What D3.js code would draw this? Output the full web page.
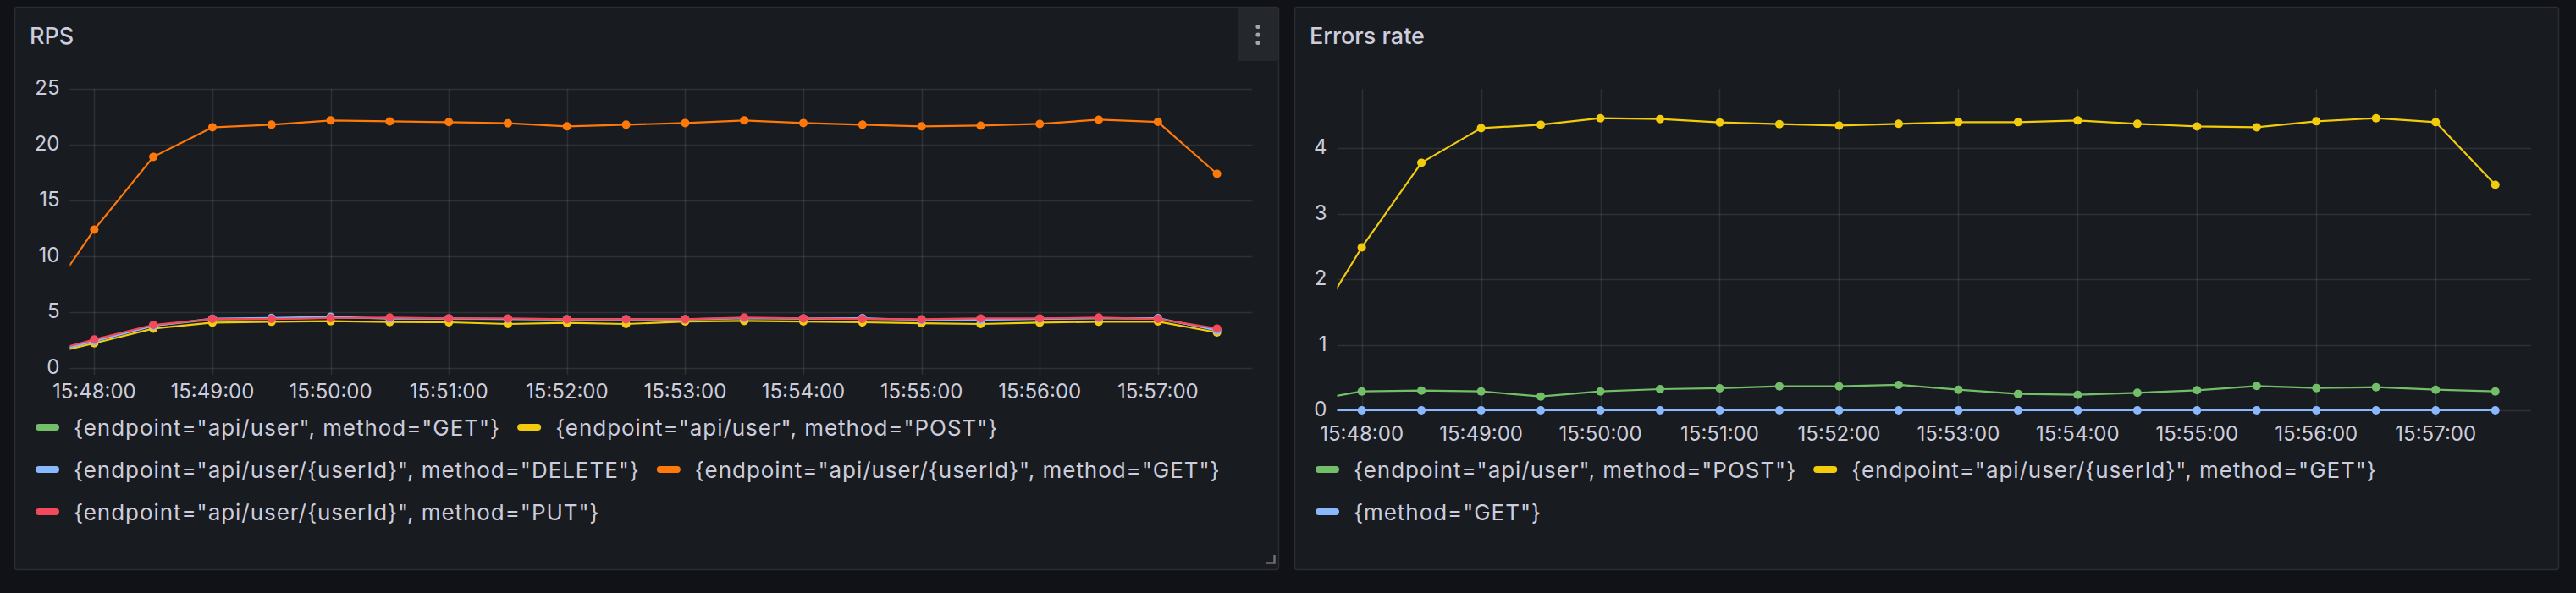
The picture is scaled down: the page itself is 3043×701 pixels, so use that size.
<!DOCTYPE html>
<html>
<head>
<meta charset="utf-8">
<script src="https://cdn.jsdelivr.net/npm/d3@7"></script>
<style>
  html, body { margin: 0; padding: 0; background: #111217; }
  svg { display: block; }
  text { font-family: Inter, "Noto Sans", sans-serif; }
</style>
</head>
<body>
<svg id="chart" width="3043" height="701"></svg>
<script>
// ---------- DATA ----------
// Sample times (every 30 s, hh:mm:ss)
const sampleTimes = ["15:47:30","15:48:00","15:48:30","15:49:00","15:49:30","15:50:00","15:50:30",
  "15:51:00","15:51:30","15:52:00","15:52:30","15:53:00","15:53:30","15:54:00","15:54:30",
  "15:55:00","15:55:30","15:56:00","15:56:30","15:57:00","15:57:30"];
const visibleRange = ["15:47:47.6", "15:57:48.0"];

// RPS panel
const rpsTitle = "RPS";
const rpsNames = [
  '{endpoint="api/user", method="GET"}',
  '{endpoint="api/user", method="POST"}',
  '{endpoint="api/user/{userId}", method="DELETE"}',
  '{endpoint="api/user/{userId}", method="GET"}',
  '{endpoint="api/user/{userId}", method="PUT"}'
];
const rpsColors = ["#73BF69", "#F2CC0C", "#8AB8FF", "#FF780A", "#F2495C"];
const rpsUserGet    = [1.10, 2.45, 3.80, 4.35, 4.40, 4.50, 4.45, 4.40, 4.38, 4.33, 4.33, 4.33, 4.45, 4.40, 4.40, 4.33, 4.35, 4.40, 4.45, 4.40, 3.45];
const rpsUserPost   = [0.98, 2.22, 3.53, 4.06, 4.14, 4.19, 4.11, 4.09, 3.94, 4.04, 3.94, 4.16, 4.21, 4.16, 4.09, 4.01, 3.94, 4.06, 4.14, 4.16, 3.18];
const rpsIdDelete   = [1.05, 2.40, 3.77, 4.42, 4.49, 4.59, 4.42, 4.44, 4.39, 4.36, 4.36, 4.36, 4.47, 4.44, 4.47, 4.30, 4.30, 4.40, 4.45, 4.47, 3.36];
const rpsIdGet      = [4.70, 12.39, 18.91, 21.56, 21.79, 22.17, 22.09, 22.02, 21.92, 21.64, 21.79, 21.94, 22.17, 21.94, 21.79, 21.64, 21.71, 21.86, 22.24, 22.04, 17.39];
const rpsIdPut      = [1.14, 2.55, 3.86, 4.39, 4.39, 4.47, 4.52, 4.44, 4.44, 4.36, 4.36, 4.36, 4.52, 4.44, 4.39, 4.36, 4.44, 4.44, 4.52, 4.39, 3.53];
const rpsYTicks = [0, 5, 10, 15, 20, 25];
const rpsYMax = 25;

// Errors rate panel
const errTitle = "Errors rate";
const errNames = [
  '{endpoint="api/user", method="POST"}',
  '{endpoint="api/user/{userId}", method="GET"}',
  '{method="GET"}'
];
const errColors = ["#73BF69", "#F2CC0C", "#8AB8FF"];
const errUserPost = [0.13, 0.288, 0.301, 0.288, 0.211, 0.288, 0.323, 0.336, 0.366, 0.366, 0.388, 0.314, 0.250, 0.237, 0.267, 0.306, 0.370, 0.340, 0.353, 0.314, 0.288];
const errIdGet    = [1.00, 2.485, 3.777, 4.306, 4.358, 4.457, 4.444, 4.393, 4.367, 4.345, 4.371, 4.397, 4.397, 4.423, 4.371, 4.332, 4.319, 4.410, 4.457, 4.397, 3.441];
const errGet      = [0, 0, 0, 0, 0, 0, 0, 0, 0, 0, 0, 0, 0, 0, 0, 0, 0, 0, 0, 0, 0];
const errYTicks = [0, 1, 2, 3, 4];
const errYMax = 4.905;

// ---------- RENDER ----------
const parseT = s => {
  const [h, m, sec] = s.split(":");
  const sf = parseFloat(sec);
  return new Date(2024, 0, 1, +h, +m, Math.floor(sf), Math.round((sf % 1) * 1000));
};
const times = sampleTimes.map(parseT);
const xDomain = visibleRange.map(parseT);

const svg = d3.select("#chart");
const C = {
  text: "#ccccdc",
  panel: "#181b1f",
  border: "#2a2d33",
  grid: "rgba(204,204,220,0.12)"
};

function drawPanel(cfg) {
  const g = svg.append("g");
  // panel box
  g.append("rect")
    .attr("x", cfg.box.x + 0.5).attr("y", cfg.box.y + 0.5)
    .attr("width", cfg.box.w - 1).attr("height", cfg.box.h - 1)
    .attr("rx", 3).attr("fill", C.panel).attr("stroke", C.border).attr("stroke-width", 1.5);
  g.append("text")
    .attr("x", cfg.box.x + 18).attr("y", cfg.box.y + 44)
    .attr("fill", C.text).attr("font-size", 27).attr("font-weight", 500)
    .text(cfg.title);

  const x = d3.scaleTime().domain(xDomain).range([cfg.plot.left, cfg.plot.right]);
  const y = d3.scaleLinear().domain([0, cfg.yMax]).range([cfg.plot.bottom, cfg.plot.top]);

  // grid: horizontal
  g.append("g").selectAll("line").data(cfg.yTicks).join("line")
    .attr("x1", cfg.plot.left).attr("x2", cfg.plot.right)
    .attr("y1", d => Math.round(y(d)) + 0.5).attr("y2", d => Math.round(y(d)) + 0.5)
    .attr("stroke", C.grid).attr("stroke-width", 1.5);
  // grid: vertical (with tick extension)
  const xTicks = x.ticks(d3.timeMinute.every(1));
  g.append("g").selectAll("line").data(xTicks).join("line")
    .attr("x1", d => Math.round(x(d)) + 0.5).attr("x2", d => Math.round(x(d)) + 0.5)
    .attr("y1", cfg.plot.top).attr("y2", cfg.plot.bottom + 8)
    .attr("stroke", C.grid).attr("stroke-width", 1.5);

  // y tick labels
  g.append("g").selectAll("text").data(cfg.yTicks).join("text")
    .attr("x", cfg.plot.left - 12).attr("y", d => y(d) + 7)
    .attr("text-anchor", "end").attr("fill", C.text).attr("font-size", 24)
    .text(d => d3.format("~g")(d));
  // x tick labels
  const fmt = d3.timeFormat("%H:%M:%S");
  g.append("g").selectAll("text").data(xTicks).join("text")
    .attr("x", d => x(d)).attr("y", cfg.plot.bottom + 36)
    .attr("text-anchor", "middle").attr("fill", C.text).attr("font-size", 24)
    .text(fmt);

  // clip
  const clipId = "clip-" + cfg.id;
  svg.append("defs").append("clipPath").attr("id", clipId).append("rect")
    .attr("x", cfg.plot.left).attr("y", cfg.plot.top - 10)
    .attr("width", cfg.plot.right - cfg.plot.left).attr("height", cfg.plot.bottom - cfg.plot.top + 20);

  const line = d3.line().x((d, i) => x(times[i])).y(d => y(d));
  const series = g.append("g").attr("clip-path", `url(#${clipId})`);
  cfg.series.forEach((vals, si) => {
    const sg = series.append("g");
    sg.append("path").datum(vals).attr("d", line)
      .attr("fill", "none").attr("stroke", cfg.colors[si]).attr("stroke-width", 2.2)
      .attr("stroke-linejoin", "round");
    sg.selectAll("circle").data(vals.map((v, i) => ({ v, t: times[i] }))).join("circle")
      .attr("cx", d => x(d.t)).attr("cy", d => y(d.v)).attr("r", 5)
      .attr("fill", cfg.colors[si]);
  });

  // legend (flow layout)
  const lg = g.append("g");
  let lx = cfg.legend.x, row = 0;
  const maxX = cfg.legend.maxX;
  cfg.names.forEach((name, i) => {
    const item = lg.append("g");
    const t = item.append("text").attr("x", 45).attr("y", 9.5)
      .attr("fill", C.text).attr("font-size", 26).attr("letter-spacing", 0.95).text(name);
    const w = 45 + t.node().getComputedTextLength();
    if (lx > cfg.legend.x && lx + w > maxX) { row++; lx = cfg.legend.x; }
    item.append("rect").attr("x", 0).attr("y", -4).attr("width", 28).attr("height", 8)
      .attr("rx", 4).attr("fill", cfg.colors[i]);
    item.attr("transform", `translate(${lx},${cfg.legend.y + row * 50})`);
    lx += w + 20;
  });
  return g;
}

drawPanel({
  id: "rps",
  box: { x: 17, y: 8, w: 1494, h: 666 },
  title: rpsTitle,
  plot: { left: 82.5, right: 1479.5, top: 105, bottom: 435 },
  yMax: rpsYMax, yTicks: rpsYTicks,
  names: rpsNames, colors: rpsColors,
  series: [rpsUserGet, rpsUserPost, rpsIdDelete, rpsIdGet, rpsIdPut],
  legend: { x: 42, y: 505, maxX: 1480 }
});

drawPanel({
  id: "err",
  box: { x: 1529, y: 8, w: 1494, h: 666 },
  title: errTitle,
  plot: { left: 1579.5, right: 2990, top: 105, bottom: 485 },
  yMax: errYMax, yTicks: errYTicks,
  names: errNames, colors: errColors,
  series: [errUserPost, errIdGet, errGet],
  legend: { x: 1554, y: 555, maxX: 2990 }
});

// panel menu button (RPS) and resize handle
svg.append("rect").attr("x", 1462).attr("y", 9).attr("width", 48).attr("height", 63)
  .attr("rx", 3).attr("fill", "#24272c");
svg.append("g").selectAll("circle").data([0, 1, 2]).join("circle")
  .attr("cx", 1486).attr("cy", d => 31.5 + d * 9.5).attr("r", 2.6).attr("fill", "#a4a5ad");
svg.append("path").attr("d", "M1496,665.5 H1505.5 V656").attr("fill", "none")
  .attr("stroke", "#6e7077").attr("stroke-width", 2.5);
</script>
</body>
</html>
